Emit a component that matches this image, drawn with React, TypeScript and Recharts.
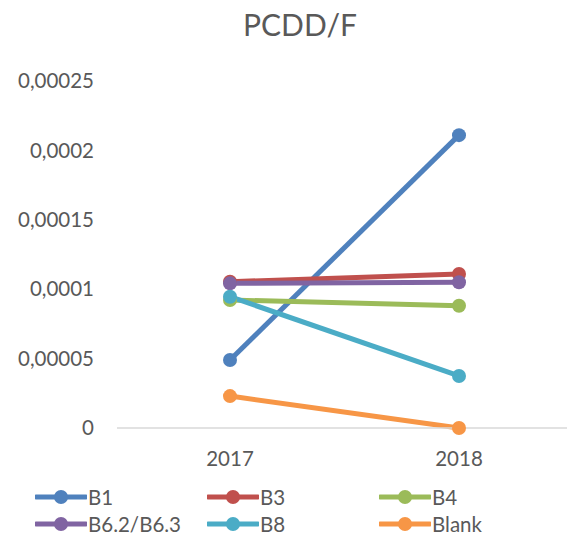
import { LineChart, Line, XAxis, YAxis } from "recharts";

const years = ["2017", "2018"];
const seriesNames = ["B1", "B3", "B4", "B6.2/B6.3", "B8", "Blank"];
const seriesColors = ["#4F81BD", "#C0504D", "#9BBB59", "#8064A2", "#4BACC6", "#F79646"];
const b1 = [0.000049, 0.000211];
const b3 = [0.0001054, 0.000111];
const b4 = [0.0000922, 0.0000881];
const b6 = [0.0001042, 0.000105];
const b8 = [0.0000946, 0.0000375];
const blank = [0.000023, 0];
const yTicks = [0, 0.00005, 0.0001, 0.00015, 0.0002, 0.00025];

const seriesValues = [b1, b3, b4, b6, b8, blank];
const data = years.map((year, i) => {
  const row: Record<string, string | number> = { year };
  seriesNames.forEach((name, s) => {
    row[name] = seriesValues[s][i];
  });
  return row;
});

const FONT = "Lato, 'Open Sans', sans-serif";
const TEXT = "#595959";

const legendCols = [35, 207, 379];
const legendRows = [497, 524];

const App = () => {
  return (
    <div style={{ position: "absolute", left: 0, top: 0, width: 567, height: 537, background: "#fff", fontFamily: FONT }}>
      <div
        style={{
          position: "absolute",
          left: 0,
          width: 600,
          top: 6,
          textAlign: "center",
          fontSize: 30,
          color: TEXT,
        }}
      >
        PCDD/F
      </div>
      <LineChart width={567} height={537} data={data} margin={{ top: 81, right: 0, left: 0, bottom: 69 }}>
        <XAxis
          dataKey="year"
          height={40}
          padding={{ left: 113, right: 108 }}
          tickLine={false}
          tickSize={0}
          tickMargin={23}
          axisLine={{ stroke: "#D9D9D9", strokeWidth: 1.5 }}
          tick={{ fill: TEXT, fontSize: 20.5, fontFamily: FONT }}
        />
        <YAxis
          width={117}
          domain={[0, 0.00025]}
          ticks={yTicks}
          tickLine={false}
          axisLine={false}
          tickSize={0}
          tickMargin={23}
          tickFormatter={(v: number) => String(v).replace(".", ",")}
          tick={{ fill: TEXT, fontSize: 20.5, fontFamily: FONT }}
        />
        {seriesNames.map((name, s) => (
          <Line
            key={name}
            type="linear"
            dataKey={name}
            stroke={seriesColors[s]}
            strokeWidth={5}
            dot={{ r: 7, fill: seriesColors[s], stroke: "none" }}
            activeDot={false}
            isAnimationActive={false}
          />
        ))}
      </LineChart>
      {seriesNames.map((name, s) => {
        const x = legendCols[s % 3];
        const y = legendRows[Math.floor(s / 3)];
        return (
          <div key={name} style={{ position: "absolute", left: x, top: y - 12, height: 24, display: "flex", alignItems: "center" }}>
            <svg width={52} height={24}>
              <line x1={1} y1={12} x2={51} y2={12} stroke={seriesColors[s]} strokeWidth={5} strokeLinecap="round" />
              <circle cx={26} cy={12} r={7} fill={seriesColors[s]} />
            </svg>
            <span style={{ marginLeft: 1, fontSize: 20.5, color: TEXT }}>{name}</span>
          </div>
        );
      })}
    </div>
  );
};

export default App;
